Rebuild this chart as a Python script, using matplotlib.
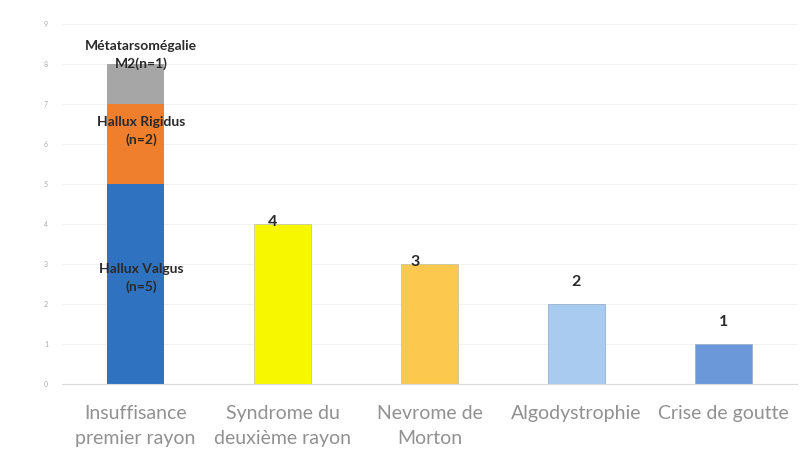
import matplotlib
matplotlib.use("Agg")
import matplotlib.pyplot as plt
import numpy as np

# Categories and counts
categories = ["Insuffisance\npremier rayon", "Syndrome du\ndeuxième rayon",
              "Nevrome de\nMorton", "Algodystrophie", "Crise de goutte"]
single_values = [None, 4, 3, 2, 1]

# First category is split into sub-diagnoses
stack_labels = ["Hallux Valgus\n(n=5)", "Hallux Rigidus\n(n=2)", "Métatarsomégalie\nM2(n=1)"]
stack_values = [5, 2, 1]
stack_colors = ["#2f72c0", "#ef7f2c", "#a6a6a6"]
single_colors = [None, "#f7f700", "#fcc94e", "#a9cbef", "#6b98d9"]
y_ticks = list(range(0, 10))

plt.rcParams["font.family"] = ["Lato", "DejaVu Sans"]

fig = plt.figure(figsize=(8.01, 4.53), dpi=100)
ax = fig.add_axes([62 / 801, 1 - 384 / 453, (797 - 62) / 801, (384 - 24) / 453])

x = np.arange(len(categories))
width = 0.39

# stacked bar
bottom = 0
for val, col in zip(stack_values, stack_colors):
    ax.bar(x[0], val, width, bottom=bottom, color=col, edgecolor="none", zorder=2)
    bottom += val

# remaining bars
for i in range(1, len(categories)):
    ax.bar(x[i], single_values[i], width, color=single_colors[i],
           edgecolor="#c8c8a0" if i < 3 else "#9ab0d0", linewidth=0.6, zorder=2)

# labels inside the stacked bar
lab_y = [2.65, 6.33, 8.22]
for txt, yy in zip(stack_labels, lab_y):
    ax.text(x[0] + 0.04, yy, txt, ha="center", va="center", fontsize=10,
            fontweight="bold", color="#2a2a2a", linespacing=1.5, zorder=3)

# value labels
val_offsets = [None, (-0.07, 4.05), (-0.1, 3.05), (0.0, 2.55), (0.0, 1.55)]
for i in range(1, len(categories)):
    dx, yy = val_offsets[i]
    ax.text(x[i] + dx, yy, str(single_values[i]), ha="center", va="center",
            fontsize=11.5, fontweight="bold", color="#2a2a2a", zorder=3)

ax.set_xlim(-0.5, len(categories) - 0.5)
ax.set_ylim(0, 9)
ax.set_yticks(y_ticks)
ax.set_yticklabels([str(v) for v in y_ticks], fontsize=5, color="#aaaaaa")
ax.tick_params(axis="y", length=0, pad=10)
ax.set_xticks(x)
ax.set_xticklabels(categories, fontsize=14, color="#919191", linespacing=1.6)
ax.tick_params(axis="x", length=0, pad=15)

ax.grid(axis="y", color="#f1f1f1", linewidth=0.8, zorder=0)
for s in ["top", "right", "left"]:
    ax.spines[s].set_visible(False)
ax.spines["bottom"].set_color("#d9d9d9")
ax.set_axisbelow(True)

fig.savefig("out.png", dpi=100, facecolor="white")
